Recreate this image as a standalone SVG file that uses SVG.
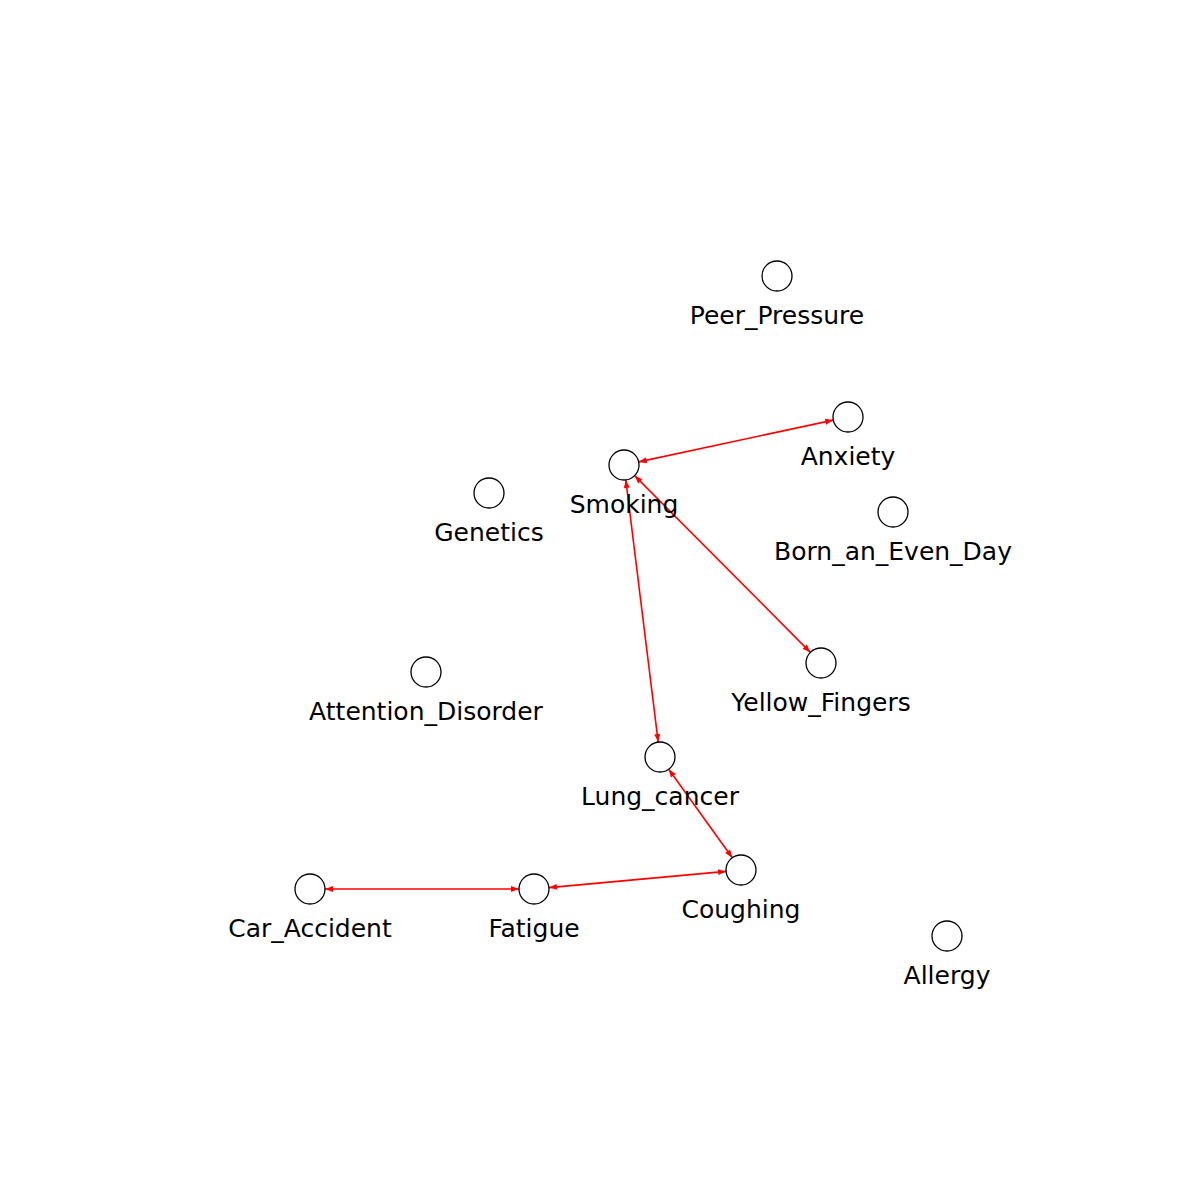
<svg xmlns="http://www.w3.org/2000/svg" width="1200" height="1200" viewBox="0 0 1200 1200">
  <style>
    .node circle { fill: #ffffff; stroke: #000000; stroke-width: 1.3; }
    .node text { font-family: "DejaVu Sans", sans-serif; font-size: 25px; fill: #000000; text-anchor: middle; }
    .edge { stroke: #ff0000; stroke-width: 1.6; fill: none; marker-start: url(#head); marker-end: url(#head); }
  </style>
  <defs>
    <marker id="head" markerUnits="userSpaceOnUse" markerWidth="12" markerHeight="10" viewBox="-10 -5 12 10" refX="0" refY="0" orient="auto-start-reverse">
      <path d="M0,0 L-8,-3 L-8,3 z" fill="#ff0000"/>
    </marker>
  </defs>
  <rect width="1200" height="1200" fill="#ffffff"/>
  <g id="edges">
    <line class="edge" x1="638.7" y1="461.9" x2="833.3" y2="420.1"/>
    <line class="edge" x1="634.6" y1="475.6" x2="810.4" y2="652.4"/>
    <line class="edge" x1="625.8" y1="479.9" x2="658.2" y2="742.1"/>
    <line class="edge" x1="668.7" y1="769.2" x2="732.3" y2="857.8"/>
    <line class="edge" x1="548.9" y1="887.6" x2="726.1" y2="871.4"/>
    <line class="edge" x1="325" y1="889" x2="519" y2="889"/>
  </g>
  <g id="Peer_Pressure" class="node"><circle cx="777" cy="276" r="15"/><text x="777" y="324">Peer_Pressure</text></g>
  <g id="Anxiety" class="node"><circle cx="848" cy="417" r="15"/><text x="848" y="465">Anxiety</text></g>
  <g id="Smoking" class="node"><circle cx="624" cy="465" r="15"/><text x="624" y="513">Smoking</text></g>
  <g id="Genetics" class="node"><circle cx="489" cy="493" r="15"/><text x="489" y="541">Genetics</text></g>
  <g id="Born_an_Even_Day" class="node"><circle cx="893" cy="512" r="15"/><text x="893" y="560">Born_an_Even_Day</text></g>
  <g id="Yellow_Fingers" class="node"><circle cx="821" cy="663" r="15"/><text x="821" y="711">Yellow_Fingers</text></g>
  <g id="Attention_Disorder" class="node"><circle cx="426" cy="672" r="15"/><text x="426" y="720">Attention_Disorder</text></g>
  <g id="Lung_cancer" class="node"><circle cx="660" cy="757" r="15"/><text x="660" y="805">Lung_cancer</text></g>
  <g id="Coughing" class="node"><circle cx="741" cy="870" r="15"/><text x="741" y="918">Coughing</text></g>
  <g id="Car_Accident" class="node"><circle cx="310" cy="889" r="15"/><text x="310" y="937">Car_Accident</text></g>
  <g id="Fatigue" class="node"><circle cx="534" cy="889" r="15"/><text x="534" y="937">Fatigue</text></g>
  <g id="Allergy" class="node"><circle cx="947" cy="936" r="15"/><text x="947" y="984">Allergy</text></g>
</svg>
